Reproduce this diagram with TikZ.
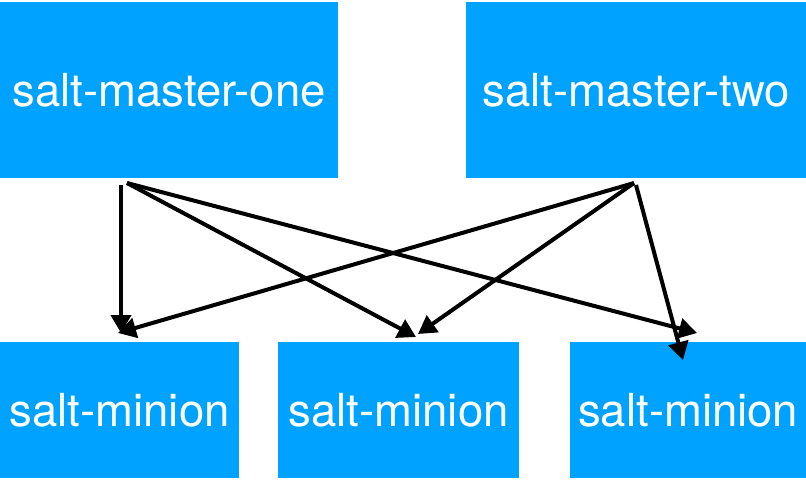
\documentclass[tikz,border=0pt]{standalone}
\usepackage{fontspec}
\setmainfont{TeX Gyre Heros}
\usetikzlibrary{arrows.meta}
\definecolor{boxblue}{RGB}{0,162,255}
\begin{document}
\begin{tikzpicture}[x=1pt,y=-1pt,
  box/.style={rectangle, fill=boxblue, inner sep=0pt, anchor=north west,
    text=white, font=\fontsize{45.5}{54}\selectfont},
  link/.style={draw=black, line width=4pt, -{Triangle[length=18pt,width=20pt]}}]
\useasboundingbox (0,0) rectangle (806,480);
\node[box, minimum width=338pt, minimum height=176pt] (m1) at (0,2) {salt-master-one};
\node[box, minimum width=340pt, minimum height=176pt] (m2) at (466,2) {salt-master-two};
\node[box, minimum width=239pt, minimum height=136pt] (n1) at (0,342) {salt-minion};
\node[box, minimum width=241pt, minimum height=136pt] (n2) at (278,342) {salt-minion};
\node[box, minimum width=236pt, minimum height=136pt] (n3) at (570,342) {salt-minion};
% start points below masters
\coordinate (s1a) at (121,185);
\coordinate (s1) at (127,183);
\coordinate (s2) at (634,183);
\coordinate (s2b) at (636,185);
% tips above minions
\coordinate (t1a) at (121,333);
\coordinate (t1b) at (118,333);
\coordinate (t2a) at (416,337);
\coordinate (t2b) at (418,334);
\coordinate (t3a) at (697,333);
\coordinate (t3b) at (683,360);
\draw[link] (s1a) -- (t1a);
\draw[link] (s1) -- (t2a);
\draw[link] (s1) -- (t3a);
\draw[link] (s2) -- (t1b);
\draw[link] (s2) -- (t2b);
\draw[link] (s2b) -- (t3b);
\end{tikzpicture}
\end{document}
